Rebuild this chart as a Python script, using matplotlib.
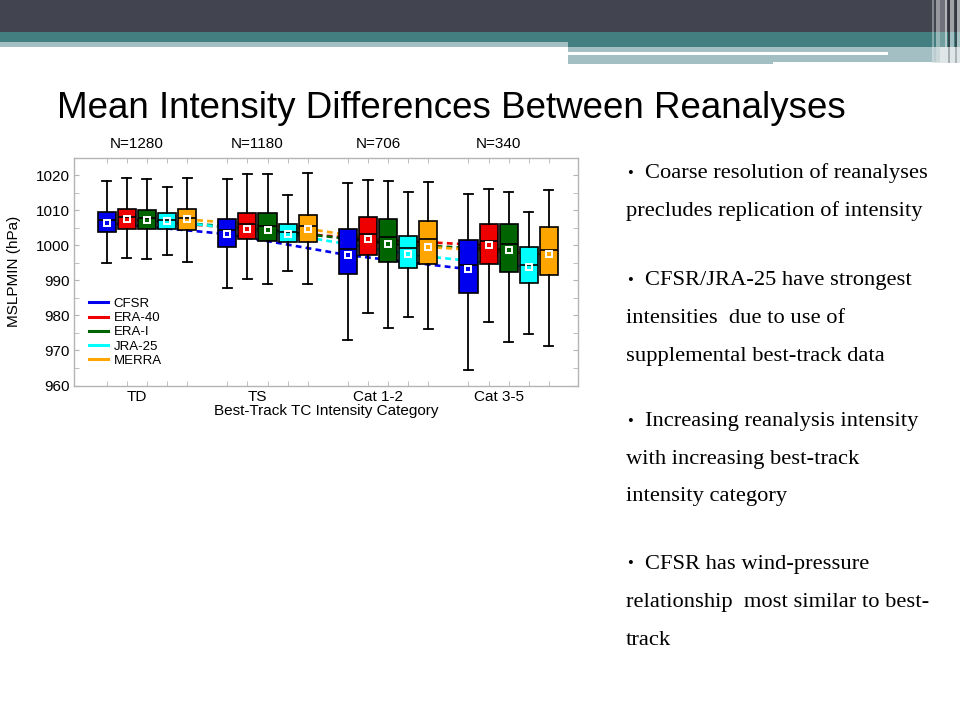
import matplotlib.pyplot as plt
import matplotlib.patches as mpatches
import matplotlib.transforms as mtransforms
from matplotlib.lines import Line2D
import numpy as np

plt.rcParams['font.family'] = ['Liberation Sans', 'DejaVu Sans']

# ---- data ----
cats = ['TD', 'TS', 'Cat 1-2', 'Cat 3-5']
counts = [1280, 1180, 706, 340]
names = ['CFSR', 'ERA-40', 'ERA-I', 'JRA-25', 'MERRA']
colors = ['#0000ee', '#ee0000', '#006400', '#00ffff', '#ffa500']

cfsr_whi = [1018.4, 1018.9, 1017.9, 1014.5]
cfsr_q3 = [1009.6, 1007.5, 1004.6, 1001.5]
cfsr_med = [1007.2, 1004.5, 998.9, 994.3]
cfsr_mean = [1006.4, 1003.2, 997.2, 993.2]
cfsr_q1 = [1003.8, 999.5, 991.8, 986.4]
cfsr_wlo = [995.0, 987.8, 972.9, 964.4]

era40_whi = [1019.1, 1020.3, 1018.7, 1016.2]
era40_q3 = [1010.5, 1009.1, 1008.0, 1006.1]
era40_med = [1008.0, 1006.0, 1003.2, 1001.3]
era40_mean = [1007.4, 1004.7, 1001.7, 1000.0]
era40_q1 = [1004.7, 1001.8, 997.1, 994.8]
era40_wlo = [996.3, 990.4, 980.8, 978.1]

erai_whi = [1018.8, 1020.3, 1018.4, 1015.2]
erai_q3 = [1010.2, 1009.2, 1007.6, 1006.0]
erai_med = [1007.8, 1005.5, 1002.4, 1000.5]
erai_mean = [1007.2, 1004.5, 1000.5, 998.6]
erai_q1 = [1004.7, 1001.3, 995.1, 992.4]
erai_wlo = [996.1, 989.1, 976.5, 972.3]

jra_whi = [1016.7, 1014.3, 1015.2, 1009.5]
jra_q3 = [1009.2, 1006.2, 1002.7, 999.5]
jra_med = [1007.2, 1003.8, 999.1, 994.5]
jra_mean = [1006.9, 1003.2, 997.4, 993.8]
jra_q1 = [1004.7, 1001.0, 993.4, 989.3]
jra_wlo = [997.2, 992.7, 979.6, 974.6]

merra_whi = [1019.1, 1020.5, 1018.0, 1015.7]
merra_q3 = [1010.4, 1008.6, 1007.0, 1005.1]
merra_med = [1007.8, 1005.4, 1001.7, 998.8]
merra_mean = [1007.4, 1004.7, 999.5, 997.4]
merra_q1 = [1004.5, 1000.9, 994.6, 991.5]
merra_wlo = [995.2, 989.1, 976.1, 971.4]

bullets = [
    ['Coarse resolution of reanalyses', 'precludes replication of intensity'],
    ['CFSR/JRA-25 have strongest', 'intensities  due to use of',
     'supplemental best-track data'],
    ['Increasing reanalysis intensity', 'with increasing best-track',
     'intensity category'],
    ['CFSR has wind-pressure', 'relationship  most similar to best-',
     'track'],
]

series = [
    (cfsr_wlo, cfsr_q1, cfsr_med, cfsr_q3, cfsr_whi, cfsr_mean),
    (era40_wlo, era40_q1, era40_med, era40_q3, era40_whi, era40_mean),
    (erai_wlo, erai_q1, erai_med, erai_q3, erai_whi, erai_mean),
    (jra_wlo, jra_q1, jra_med, jra_q3, jra_whi, jra_mean),
    (merra_wlo, merra_q1, merra_med, merra_q3, merra_whi, merra_mean),
]

W, H = 960, 720
fig = plt.figure(figsize=(9.6, 7.2), dpi=100)
fig.patch.set_facecolor('white')


def px(x, y):
    return x / W, 1 - y / H


def rect(x0, y0, x1, y1, color, alpha=1.0):
    fx, fy = px(x0, y1)
    fig.patches.append(mpatches.Rectangle((fx, fy), (x1 - x0) / W, (y1 - y0) / H,
                                          transform=fig.transFigure, color=color,
                                          alpha=alpha, lw=0, zorder=0))


# ---- slide header ----
dark = '#42444f'
teal = '#437e81'
light = '#a4bfc3'
rect(0, 0, 960, 32, dark)
rect(0, 32, 960, 41.7, teal)
rect(568, 41.7, 960, 46.7, teal)
rect(0, 41.7, 568, 46.7, light)
rect(568, 46.7, 940, 51.7, light)
rect(888, 51.7, 940, 55, light)
rect(568, 55, 773, 64.3, light)
rect(773, 55, 940, 61.7, light)
for x0, x1, c, a in [(932, 934, 'white', 0.35), (936, 940, 'white', 0.45),
                     (940, 945, 'white', 0.25), (945, 947, 'white', 0.6),
                     (948, 949.5, '#2e3038', 0.7), (950, 954, 'white', 0.5),
                     (955, 956.5, '#2e3038', 0.6), (957, 960, 'white', 0.55)]:
    rect(x0, 0, x1, 63, c, a)
rect(932, 46.7, 960, 63, '#c9d6d8', 0.6)

fx, fy = px(57, 118)
fig.text(fx, fy, 'Mean Intensity Differences Between Reanalyses',
         fontsize=26.5, va='baseline', ha='left')

# ---- bullet text ----
baselines = [[178, 216], [285, 323, 361], [426, 463.5, 501.5], [568.5, 606.5, 645]]
for para, ys in zip(bullets, baselines):
    for i, (line, y) in enumerate(zip(para, ys)):
        if i == 0:
            bx, by = px(627, y)
            fig.text(bx, by, '\u2022', fontsize=12, family='Liberation Serif',
                     va='baseline', ha='left')
        tx, ty = px(645 if i == 0 else 626, y)
        fig.text(tx, ty, line, fontsize=16.2, family='Liberation Serif',
                 va='baseline', ha='left')

# ---- chart ----
ax_l, ax_r, ax_t, ax_b = 74, 578, 157.7, 385.5
ax = fig.add_axes([ax_l / W, 1 - ax_b / H, (ax_r - ax_l) / W, (ax_b - ax_t) / H])

ngrp = len(cats)
nser = len(names)
gap = nser + 1

for k, (wlo, q1, med, q3, whi, mean) in enumerate(series):
    pos = [g * gap + k for g in range(ngrp)]
    stats = []
    for g in range(ngrp):
        stats.append({'whislo': wlo[g], 'q1': q1[g], 'med': med[g],
                      'q3': q3[g], 'whishi': whi[g], 'fliers': []})
    bp = ax.bxp(stats, positions=pos, widths=0.9, capwidths=0.45,
                patch_artist=True, showfliers=False, manage_ticks=False,
                boxprops=dict(facecolor=colors[k], edgecolor='black', linewidth=1.2),
                medianprops=dict(color='black', linewidth=1.2),
                whiskerprops=dict(color='black', linewidth=1.3),
                capprops=dict(color='black', linewidth=1.3))
    for art in bp['boxes'] + bp['medians'] + bp['whiskers'] + bp['caps']:
        art.set_zorder(3)
    ax.plot(pos, mean, ls=(0, (2.2, 1.6)), color=colors[k], lw=1.9, zorder=2)
    ax.plot(pos, mean, ls='none', marker='s', ms=4.5, mfc='none', mec='white',
            mew=1.4, zorder=4)

ax.set_xlim(-1.63, 23.45)
ax.set_ylim(960, 1025)

grey = '#b4b4b4'
for s in ax.spines.values():
    s.set_color(grey)
    s.set_linewidth(1.0)

centers = [g * gap + 1.5 for g in range(ngrp)]
ax.set_xticks(centers)
ax.set_xticklabels(cats, fontsize=11)
ax.set_xticks([g * gap + k for g in range(ngrp) for k in range(nser)], minor=True)
ax.tick_params(axis='x', which='major', length=0, pad=3)
ax.tick_params(axis='x', which='minor', direction='in', length=3.6, color=grey,
               top=True, bottom=True)

ax.set_yticks(np.arange(960, 1021, 10))
ax.set_yticks(np.arange(960, 1025, 5), minor=True)
ax.tick_params(axis='y', which='both', direction='in', length=3.6, color=grey,
               left=True, right=True, labelsize=11, pad=3)

ax.set_ylabel('MSLPMIN (hPa)', fontsize=11)
ax.yaxis.set_label_coords(-0.105, 0.5)
ax.set_xlabel('Best-Track TC Intensity Category', fontsize=11)
ax.xaxis.set_label_coords(0.5, -0.082)

trans = mtransforms.blended_transform_factory(ax.transData, ax.transAxes)
for c, n in zip(centers, counts):
    ax.text(c, 1.043, 'N=%d' % n, transform=trans, ha='center', va='baseline',
            fontsize=11)

handles = [Line2D([0], [0], color=c, lw=2.2) for c in colors]
ax.legend(handles, names, loc='upper left', bbox_to_anchor=(0.03, 0.385),
          frameon=False, fontsize=9.5, handlelength=1.45, handletextpad=0.4,
          labelspacing=0.15, borderpad=0, borderaxespad=0)

fig.savefig('out.png', dpi=100)
